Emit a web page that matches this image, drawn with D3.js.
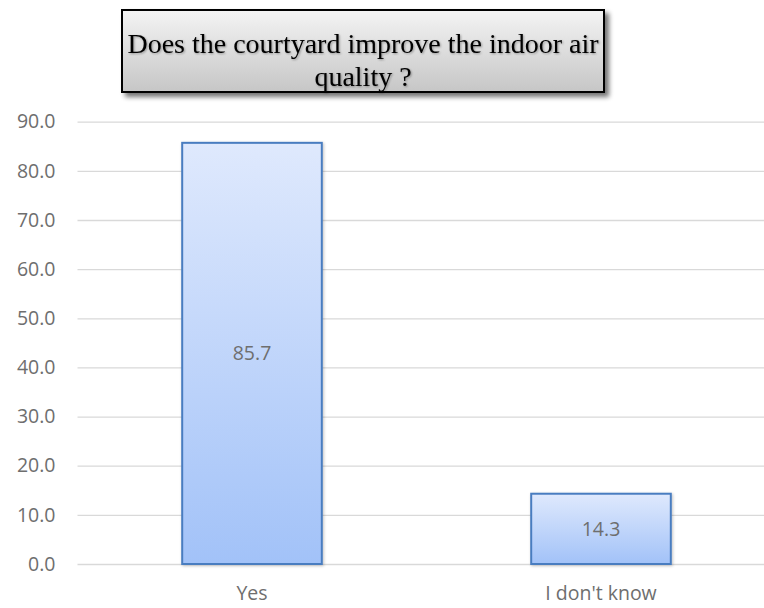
<!DOCTYPE html>
<html>
<head>
<meta charset="utf-8">
<script src="https://cdn.jsdelivr.net/npm/d3@7/dist/d3.min.js"></script>
<style>
  html, body { margin: 0; padding: 0; background: #fff; }
  svg { display: block; }
</style>
</head>
<body>
<svg id="chart" width="764" height="608"></svg>
<script>
// Survey answers (percent of respondents)
const categories = ["Yes", "I don't know"];
const values = [85.7, 14.3];
const yTicks = [0, 10, 20, 30, 40, 50, 60, 70, 80, 90];
const titleLines = ["Does the courtyard improve the indoor air", "quality ?"];

const svg = d3.select("#chart");
const plot = { left: 77.5, right: 775.5, top: 121.7, bottom: 564 };
const labelFont = "'Open Sans', Lato, sans-serif";
const labelSize = 19.5;
const labelColor = "#6e6e6e";

const x = d3.scaleBand().domain(categories).range([plot.left, plot.right]).paddingInner(0.6).paddingOuter(0.3);
const y = d3.scaleLinear().domain([0, 90]).range([plot.bottom, plot.top]);

const defs = svg.append("defs");
const barGrad = defs.append("linearGradient").attr("id", "barGrad").attr("x1", 0).attr("y1", 0).attr("x2", 0).attr("y2", 1);
barGrad.append("stop").attr("offset", "0%").attr("stop-color", "#dfe9fd");
barGrad.append("stop").attr("offset", "100%").attr("stop-color", "#a2c2f8");

const boxGrad = defs.append("linearGradient").attr("id", "boxGrad").attr("x1", 0).attr("y1", 0).attr("x2", 0).attr("y2", 1);
boxGrad.append("stop").attr("offset", "0%").attr("stop-color", "#f4f4f4");
boxGrad.append("stop").attr("offset", "100%").attr("stop-color", "#c6c6c6");

const shadow = defs.append("filter").attr("id", "shadow").attr("x", "-10%").attr("y", "-20%").attr("width", "130%").attr("height", "150%");
shadow.append("feGaussianBlur").attr("in", "SourceAlpha").attr("stdDeviation", 2.5).attr("result", "b");
shadow.append("feOffset").attr("in", "b").attr("dx", 4).attr("dy", 4).attr("result", "o");
shadow.append("feComponentTransfer").attr("in", "o").attr("result", "s")
  .append("feFuncA").attr("type", "linear").attr("slope", 0.55);
const merge = shadow.append("feMerge");
merge.append("feMergeNode").attr("in", "s");
merge.append("feMergeNode").attr("in", "SourceGraphic");

const textShadow = defs.append("filter").attr("id", "textShadow").attr("x", "-5%").attr("y", "-20%").attr("width", "110%").attr("height", "140%");
textShadow.append("feGaussianBlur").attr("in", "SourceAlpha").attr("stdDeviation", 0.8).attr("result", "b");
textShadow.append("feOffset").attr("in", "b").attr("dx", 0.8).attr("dy", 0.8).attr("result", "o");
textShadow.append("feComponentTransfer").attr("in", "o").attr("result", "s")
  .append("feFuncA").attr("type", "linear").attr("slope", 0.35);
const m3 = textShadow.append("feMerge");
m3.append("feMergeNode").attr("in", "s");
m3.append("feMergeNode").attr("in", "SourceGraphic");

const barShadow = defs.append("filter").attr("id", "barShadow").attr("x", "-10%").attr("y", "-10%").attr("width", "120%").attr("height", "120%");
barShadow.append("feGaussianBlur").attr("in", "SourceAlpha").attr("stdDeviation", 1.5).attr("result", "b");
barShadow.append("feOffset").attr("in", "b").attr("dx", 1).attr("dy", 1).attr("result", "o");
barShadow.append("feComponentTransfer").attr("in", "o").attr("result", "s")
  .append("feFuncA").attr("type", "linear").attr("slope", 0.25);
const m2 = barShadow.append("feMerge");
m2.append("feMergeNode").attr("in", "s");
m2.append("feMergeNode").attr("in", "SourceGraphic");

// Horizontal gridlines + value axis labels
const yAxis = d3.axisLeft(y).tickValues(yTicks).tickFormat(d3.format(".1f")).tickSize(-(plot.right - plot.left)).tickPadding(22);
const gy = svg.append("g").attr("transform", `translate(${plot.left},0)`).call(yAxis);
gy.select(".domain").remove();
gy.selectAll(".tick line").attr("stroke", "#d9d9d9").attr("stroke-width", 1.3);
gy.selectAll(".tick text")
  .attr("fill", labelColor)
  .attr("font-family", labelFont)
  .attr("font-size", labelSize);

// Category labels
const xAxis = d3.axisBottom(x).tickSize(0).tickPadding(22);
const gx = svg.append("g").attr("transform", `translate(0,${plot.bottom})`).call(xAxis);
gx.select(".domain").remove();
gx.selectAll(".tick text")
  .attr("fill", labelColor)
  .attr("font-family", labelFont)
  .attr("font-size", labelSize);

// Bars
const bars = svg.append("g").selectAll("g.bar").data(categories.map((c, i) => ({ c, v: values[i] }))).join("g").attr("class", "bar");
bars.append("rect")
  .attr("x", d => x(d.c))
  .attr("y", d => y(d.v))
  .attr("width", x.bandwidth())
  .attr("height", d => y(0) - y(d.v))
  .attr("fill", "url(#barGrad)")
  .attr("stroke", "#4a7dc0")
  .attr("stroke-width", 2)
  .attr("filter", "url(#barShadow)");
bars.append("text")
  .attr("x", d => x(d.c) + x.bandwidth() / 2)
  .attr("y", d => (y(d.v) + y(0)) / 2)
  .attr("dy", "0.35em")
  .attr("text-anchor", "middle")
  .attr("fill", labelColor)
  .attr("font-family", labelFont)
  .attr("font-size", labelSize)
  .text(d => d.v.toFixed(1));

// Title box
const box = { x: 122, y: 10, w: 482, h: 82 };
svg.append("rect")
  .attr("x", box.x).attr("y", box.y).attr("width", box.w).attr("height", box.h)
  .attr("fill", "url(#boxGrad)").attr("stroke", "#000").attr("stroke-width", 2)
  .attr("filter", "url(#shadow)");
svg.append("text")
  .attr("text-anchor", "middle")
  .attr("font-family", "'Liberation Serif', 'Times New Roman', serif")
  .attr("font-size", 28)
  .attr("fill", "#000")
  .attr("filter", "url(#textShadow)")
  .selectAll("tspan").data(titleLines).join("tspan")
  .attr("x", box.x + box.w / 2)
  .attr("y", (d, i) => 53 + i * 33)
  .text(d => d);
</script>
</body>
</html>
